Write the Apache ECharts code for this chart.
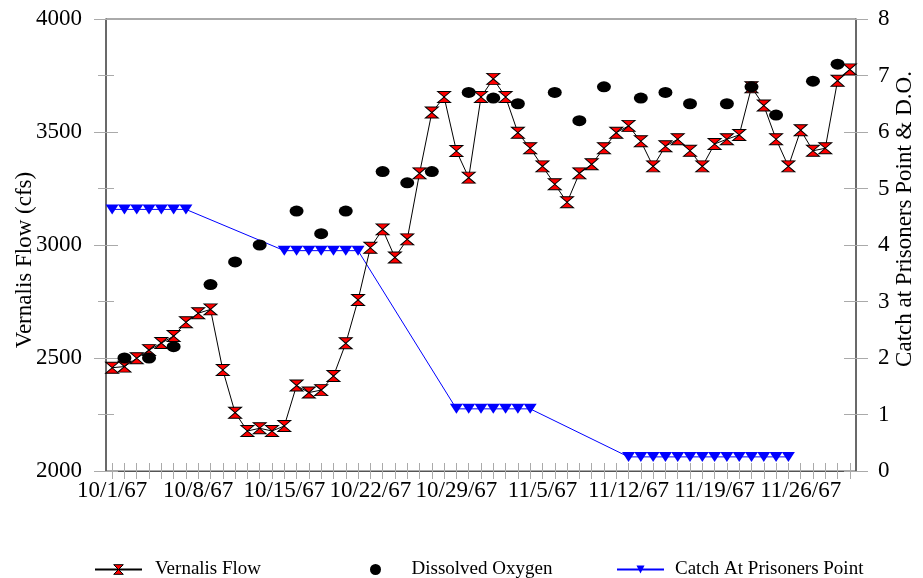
<!DOCTYPE html>
<html>
<head>
<meta charset="utf-8">
<script src="https://cdn.jsdelivr.net/npm/echarts@6/dist/echarts.min.js"></script>
<style>
  html, body { margin: 0; padding: 0; background: #fff; }
  #chart { width: 923px; height: 578px; }
</style>
</head>
<body>
<div id="chart"></div>
<script>
// daily dates, 10/1/67 .. 11/30/67
const dates = [
  '10/1/67','10/2/67','10/3/67','10/4/67','10/5/67','10/6/67','10/7/67','10/8/67','10/9/67','10/10/67',
  '10/11/67','10/12/67','10/13/67','10/14/67','10/15/67','10/16/67','10/17/67','10/18/67','10/19/67','10/20/67',
  '10/21/67','10/22/67','10/23/67','10/24/67','10/25/67','10/26/67','10/27/67','10/28/67','10/29/67','10/30/67',
  '10/31/67','11/1/67','11/2/67','11/3/67','11/4/67','11/5/67','11/6/67','11/7/67','11/8/67','11/9/67',
  '11/10/67','11/11/67','11/12/67','11/13/67','11/14/67','11/15/67','11/16/67','11/17/67','11/18/67','11/19/67',
  '11/20/67','11/21/67','11/22/67','11/23/67','11/24/67','11/25/67','11/26/67','11/27/67','11/28/67','11/29/67',
  '11/30/67'
];

// Vernalis flow (cfs), one value per day
const flowValues = [
  2457, 2462, 2499, 2535, 2566, 2597, 2658, 2698, 2715, 2447,
  2258, 2177, 2189, 2177, 2199, 2378, 2347, 2358, 2420, 2565,
  2757, 2988, 3069, 2945, 3025, 3317, 3586, 3655, 3416, 3298,
  3655, 3735, 3655, 3497, 3428, 3348, 3269, 3189, 3317, 3357,
  3428, 3497, 3527, 3459, 3348, 3437, 3468, 3417, 3348, 3447,
  3468, 3487, 3698, 3617, 3468, 3348, 3508, 3417, 3428, 3727,
  3777
];

// dissolved oxygen (right axis), sampled Mon / Wed / Fri
const doDates = [
  '10/2/67','10/4/67','10/6/67','10/9/67','10/11/67','10/13/67','10/16/67','10/18/67','10/20/67',
  '10/23/67','10/25/67','10/27/67','10/30/67','11/1/67','11/3/67','11/6/67','11/8/67','11/10/67',
  '11/13/67','11/15/67','11/17/67','11/20/67','11/22/67','11/24/67','11/27/67','11/29/67'
];
const doValues = [
  2.0, 2.0, 2.2, 3.3, 3.7, 4.0, 4.6, 4.2, 4.6,
  5.3, 5.1, 5.3, 6.7, 6.6, 6.5, 6.7, 6.2, 6.8,
  6.6, 6.7, 6.5, 6.5, 6.8, 6.3, 6.9, 7.2
];

// catch at Prisoners Point (right axis), weekly averages held over the week
const catchDates = [
  '10/1/67','10/2/67','10/3/67','10/4/67','10/5/67','10/6/67','10/7/67',
  '10/15/67','10/16/67','10/17/67','10/18/67','10/19/67','10/20/67','10/21/67',
  '10/29/67','10/30/67','10/31/67','11/1/67','11/2/67','11/3/67','11/4/67',
  '11/12/67','11/13/67','11/14/67','11/15/67','11/16/67','11/17/67','11/18/67',
  '11/19/67','11/20/67','11/21/67','11/22/67','11/23/67','11/24/67','11/25/67'
];
const catchValues = [
  4.63, 4.63, 4.63, 4.63, 4.63, 4.63, 4.63,
  3.9, 3.9, 3.9, 3.9, 3.9, 3.9, 3.9,
  1.1, 1.1, 1.1, 1.1, 1.1, 1.1, 1.1,
  0.25, 0.25, 0.25, 0.25, 0.25, 0.25, 0.25,
  0.25, 0.25, 0.25, 0.25, 0.25, 0.25, 0.25
];

const leftTicks = { min: 2000, max: 4000, interval: 500 };
const rightTicks = { min: 0, max: 8, interval: 1 };

const serif = "'Liberation Serif', 'Times New Roman', serif";
const axisGrey = '#555';
const tickGrey = '#aaa';
const hourglass = 'path://M0,0 L10,0 L5,5 L10,10 L0,10 L5,5 Z';
const downTriangle = 'path://M0,0 L10,0 L5,8 Z';

const chart = echarts.init(document.getElementById('chart'), null, { renderer: 'canvas' });

const xBase = {
  type: 'category',
  data: dates,
  position: 'bottom',
  boundaryGap: true,
  splitLine: { show: false }
};

const legendText = { fontFamily: serif, fontSize: 19, color: '#000' };

chart.setOption({
  animation: false,
  backgroundColor: '#fff',
  grid: {
    left: 106, right: 67, top: 19, bottom: 107,
    outerBoundsMode: 'none', containLabel: false,
    show: true, borderColor: axisGrey, borderWidth: 1, backgroundColor: 'transparent'
  },
  legend: [
    {
      data: [{ name: 'Vernalis Flow', itemStyle: { color: '#ff0000', borderColor: '#000', borderWidth: 1 } }],
      left: 94, top: 560, padding: 0,
      itemWidth: 47, itemHeight: 12,
      textStyle: Object.assign({ padding: [0, 0, 0, 8] }, legendText)
    },
    {
      data: ['Dissolved Oxygen'], left: 370, top: 560, padding: 0,
      itemWidth: 14, itemHeight: 11,
      textStyle: Object.assign({ padding: [0, 0, 0, 24] }, legendText)
    },
    {
      data: ['Catch At Prisoners Point'], left: 616, top: 560, padding: 0,
      itemWidth: 47, itemHeight: 10,
      textStyle: Object.assign({ padding: [0, 0, 0, 6] }, legendText)
    }
  ],
  xAxis: [
    Object.assign({}, xBase, {
      axisLine: { lineStyle: { color: axisGrey, width: 1 } },
      axisTick: { show: true, alignWithLabel: true, interval: 0, length: 8, lineStyle: { color: tickGrey } },
      axisLabel: { interval: 6, margin: 8, fontFamily: serif, fontSize: 23, color: '#000' }
    }),
    Object.assign({}, xBase, {
      axisLine: { show: false },
      axisTick: { show: true, inside: true, alignWithLabel: true, interval: 0, length: 8, lineStyle: { color: tickGrey } },
      axisLabel: { show: false }
    })
  ],
  yAxis: [
    {
      type: 'value', position: 'left',
      min: leftTicks.min, max: leftTicks.max, interval: leftTicks.interval,
      name: 'Vernalis Flow (cfs)', nameLocation: 'middle', nameGap: 70, nameMoveOverlap: false,
      nameTextStyle: { fontFamily: serif, fontSize: 23, color: '#000', padding: [0, 30, 0, 0] },
      axisLine: { show: true, lineStyle: { color: axisGrey, width: 1.5 } },
      axisTick: { show: true, length: 12, lineStyle: { color: tickGrey } },
      minorTick: { show: true, splitNumber: 2, length: 8, lineStyle: { color: tickGrey } },
      axisLabel: { margin: 24, fontFamily: serif, fontSize: 23, color: '#000', formatter: v => String(v) },
      splitLine: { show: false }
    },
    {
      type: 'value', position: 'left',
      min: leftTicks.min, max: leftTicks.max, interval: leftTicks.interval,
      axisLine: { show: false },
      axisTick: { show: true, inside: true, length: 12, lineStyle: { color: tickGrey } },
      minorTick: { show: true, splitNumber: 2, length: 8, lineStyle: { color: tickGrey } },
      axisLabel: { show: false },
      splitLine: { show: false }
    },
    {
      type: 'value', position: 'right',
      min: rightTicks.min, max: rightTicks.max, interval: rightTicks.interval,
      name: 'Catch at Prisoners Point & D.O.', nameLocation: 'middle', nameGap: 37, nameMoveOverlap: false,
      nameTextStyle: { fontFamily: serif, fontSize: 23, color: '#000', padding: [0, 0, 0, 52] },
      axisLine: { show: true, lineStyle: { color: axisGrey, width: 1.5 } },
      axisTick: { show: true, length: 12, lineStyle: { color: tickGrey } },
      axisLabel: { margin: 22, fontFamily: serif, fontSize: 23, color: '#000' },
      splitLine: { show: false }
    },
    {
      type: 'value', position: 'right',
      min: rightTicks.min, max: rightTicks.max, interval: rightTicks.interval,
      axisLine: { show: false },
      axisTick: { show: true, inside: true, length: 12, lineStyle: { color: tickGrey } },
      axisLabel: { show: false },
      splitLine: { show: false }
    }
  ],
  series: [
    {
      name: 'Vernalis Flow',
      type: 'line',
      xAxisIndex: 0, yAxisIndex: 0,
      data: flowValues,
      symbol: hourglass,
      symbolSize: [13, 11],
      showAllSymbol: true,
      lineStyle: { color: '#000', width: 1 },
      itemStyle: { color: '#ff0000', borderColor: '#000', borderWidth: 1 },
      z: 3
    },
    {
      name: 'Dissolved Oxygen',
      type: 'scatter',
      xAxisIndex: 0, yAxisIndex: 2,
      data: doDates.map((d, i) => [d, doValues[i]]),
      symbol: 'circle',
      symbolSize: [14, 11],
      itemStyle: { color: '#000', opacity: 1 },
      z: 4
    },
    {
      name: 'Catch At Prisoners Point',
      type: 'line',
      xAxisIndex: 0, yAxisIndex: 2,
      data: catchDates.map((d, i) => [d, catchValues[i]]),
      symbol: downTriangle,
      symbolSize: [13, 10],
      showAllSymbol: true,
      lineStyle: { color: '#0000ff', width: 1 },
      itemStyle: { color: '#0000ff' },
      z: 2
    }
  ]
});
</script>
</body>
</html>
